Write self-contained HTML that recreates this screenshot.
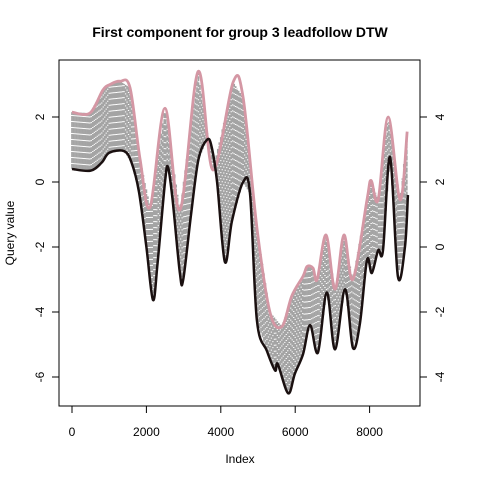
<!DOCTYPE html>
<html><head><meta charset="utf-8"><style>
body{margin:0;background:#fff;}
svg{display:block;font-family:"Liberation Sans",Arial,sans-serif;}
</style></head><body>
<svg width="480" height="480" viewBox="0 0 480 480" id="chart">
<text x="240" y="37" text-anchor="middle" font-size="14" font-weight="bold">First component for group 3 leadfollow DTW</text>
<text x="240" y="463" text-anchor="middle" font-size="12">Index</text>
<text transform="translate(14,233) rotate(-90)" text-anchor="middle" font-size="12">Query value</text>
<g id="bands"></g>
<path id="pinkLine" fill="none" stroke="#d497a4" stroke-width="2.8"/>
<path id="blackLine" fill="none" stroke="#1a1010" stroke-width="2.5"/>
<rect x="59" y="60" width="361" height="346" fill="none" stroke="#000" stroke-width="1"/>
<g id="axes" font-size="12"></g>
</svg>
<script>
const queryIdx=[0,500,800,1000,1400,1600,1800,2000,2177,2300,2500,2580,2700,2900,2990,3200,3400,3630,3750,3900,4110,4300,4600,4785,4970,5240,5460,5530,5810,5990,6210,6400,6610,6850,7070,7340,7550,7740,7930,8060,8230,8360,8550,8760,8950,9030];
const queryVal=[0.4,0.35,0.6,0.9,0.95,0.6,-0.3,-2.0,-3.63,-2.5,0.0,0.46,-0.5,-2.8,-3.0,-1.0,0.7,1.3,1.1,0.0,-2.46,-1.2,0.0,-0.35,-4.25,-5.2,-5.8,-5.6,-6.5,-5.9,-5.3,-4.4,-5.25,-3.4,-5.15,-3.3,-5.1,-4.35,-2.4,-2.8,-2.1,-2.1,0.77,-2.9,-2.0,-0.4];
const refIdx=[0,480,830,1020,1290,1560,1830,2100,2500,2900,3390,3790,4330,4600,4970,5320,5640,5910,6210,6320,6480,6590,6830,7070,7310,7550,7930,8040,8230,8500,8820,9010];
const refVal=[4.15,4.12,4.83,5.0,5.1,4.9,2.7,1.23,4.27,1.14,5.4,2.37,5.07,4.6,0.6,-2.0,-2.45,-1.5,-0.9,-0.6,-0.65,-1.0,0.37,-1.3,0.37,-1.0,1.45,2.05,1.45,4.0,1.45,3.55];
const refOffset=2;
const xTicks=[0,2000,4000,6000,8000];
const yTicks=[-6,-4,-2,0,2];
const y2Ticks=[-4,-2,0,2,4];
const X=v=>72+v*0.0372, Y=v=>182-v*32.5, Y2=v=>Y(v-refOffset);
const NS="http://www.w3.org/2000/svg";
function mk(t,a,p){const e=document.createElementNS(NS,t);for(const k in a)e.setAttribute(k,a[k]);p.appendChild(e);return e;}
function smooth(pts){let d="M"+pts[0][0]+","+pts[0][1];for(let i=0;i<pts.length-1;i++){const p0=pts[Math.max(0,i-1)],p1=pts[i],p2=pts[i+1],p3=pts[Math.min(pts.length-1,i+2)];d+=" C"+(p1[0]+(p2[0]-p0[0])/6)+","+(p1[1]+(p2[1]-p0[1])/6)+" "+(p2[0]-(p3[0]-p1[0])/6)+","+(p2[1]-(p3[1]-p1[1])/6)+" "+p2[0]+","+p2[1];}return d;}
function interp(xs,ys,x){if(x<=xs[0])return ys[0];for(let i=1;i<xs.length;i++){if(x<=xs[i]){const t=(x-xs[i-1])/(xs[i]-xs[i-1]);return ys[i-1]+t*(ys[i]-ys[i-1]);}}return ys[ys.length-1];}
const bands=document.getElementById('bands');
const maxI=Math.min(queryIdx[queryIdx.length-1],refIdx[refIdx.length-1]);
for(let i=0;i<=maxI;i+=40){
 const l=mk('line',{x1:X(i),y1:Y(interp(queryIdx,queryVal,i)),x2:X(i),y2:Y2(interp(refIdx,refVal,i)),stroke:'#a4a4a4','stroke-width':1.7,'stroke-dasharray':'5,1'},bands);
 
 
}
document.getElementById('pinkLine').setAttribute('d',smooth(refIdx.map((v,i)=>[X(v),Y2(refVal[i])])));
document.getElementById('blackLine').setAttribute('d',smooth(queryIdx.map((v,i)=>[X(v),Y(queryVal[i])])));
const ax=document.getElementById('axes');
mk('line',{x1:X(0),x2:X(8000),y1:406,y2:406,stroke:'#000'},ax);
xTicks.forEach(t=>{mk('line',{x1:X(t),x2:X(t),y1:406,y2:413,stroke:'#000'},ax);const e=mk('text',{x:X(t),y:436,'text-anchor':'middle'},ax);e.textContent=t;});
yTicks.forEach(t=>{mk('line',{x1:52,x2:59,y1:Y(t),y2:Y(t),stroke:'#000'},ax);const e=mk('text',{transform:`translate(44,${Y(t)}) rotate(-90)`,'text-anchor':'middle'},ax);e.textContent=t;});
y2Ticks.forEach(t=>{mk('line',{x1:420,x2:427,y1:Y2(t),y2:Y2(t),stroke:'#000'},ax);const e=mk('text',{transform:`translate(444,${Y2(t)}) rotate(-90)`,'text-anchor':'middle'},ax);e.textContent=t;});
</script>
</body></html>
